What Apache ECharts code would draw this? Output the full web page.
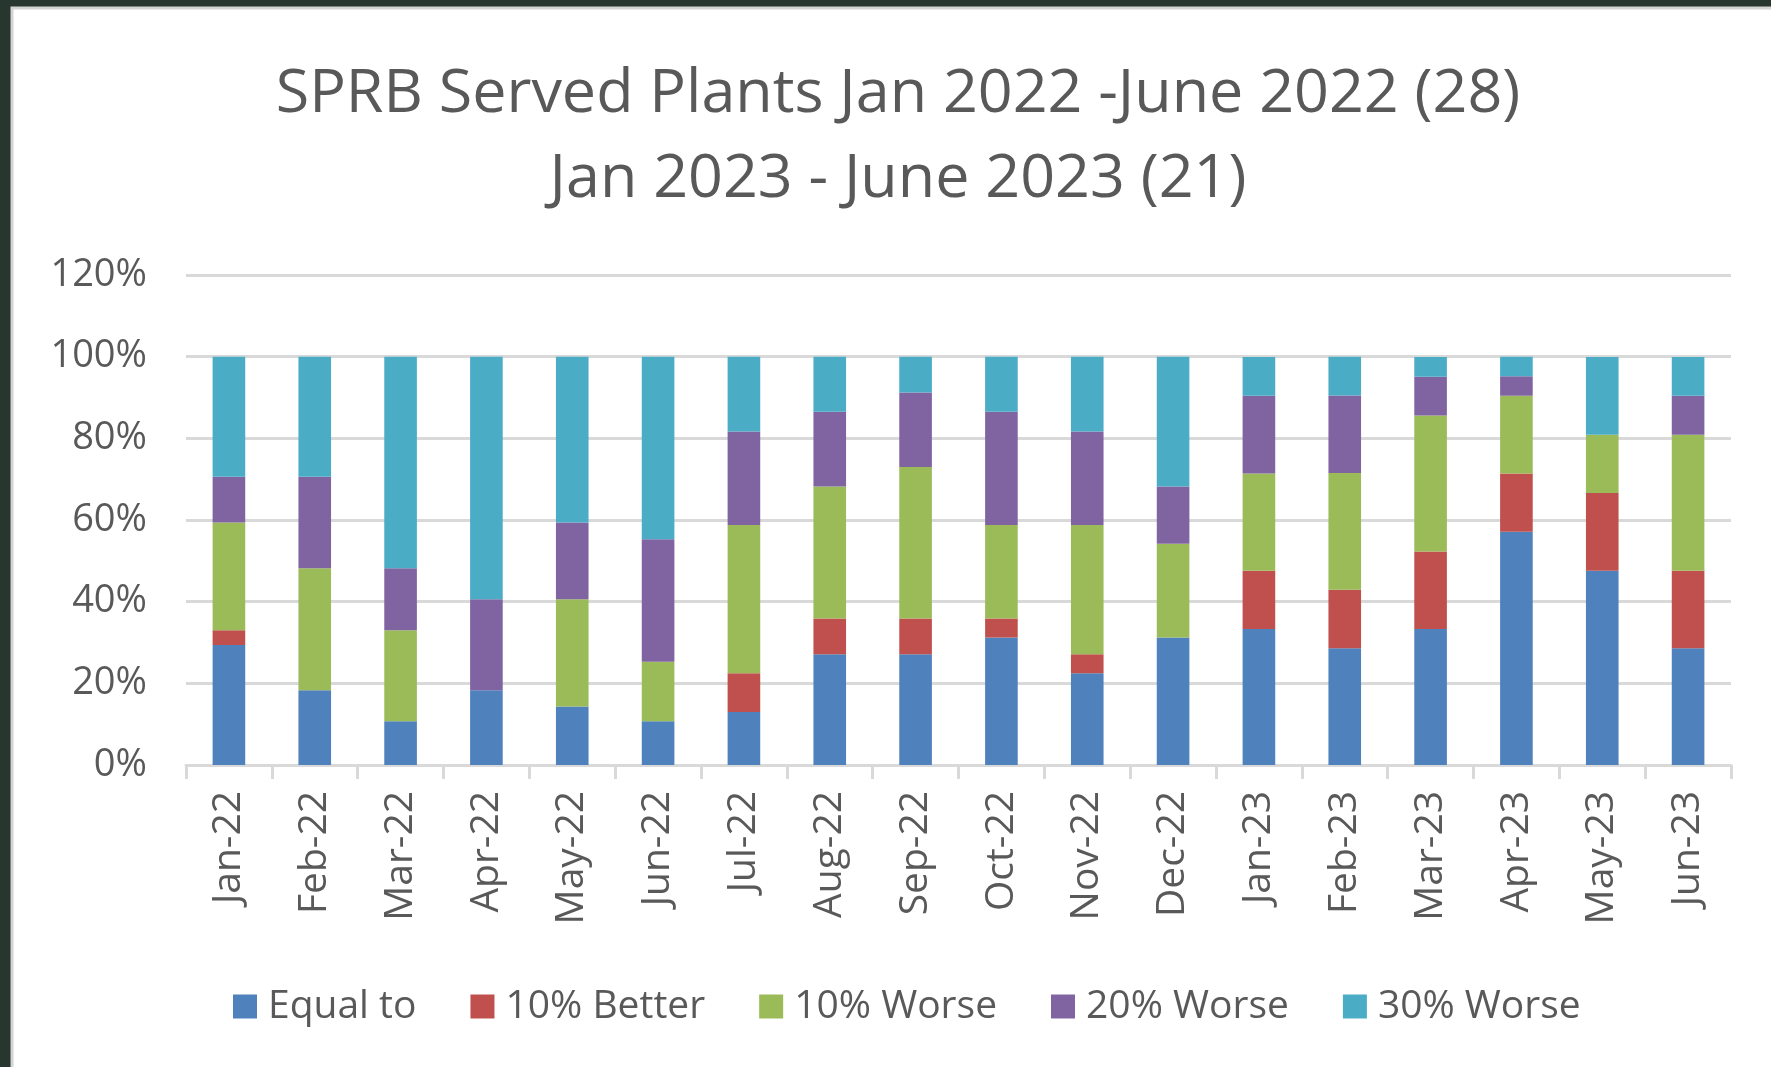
<!DOCTYPE html>
<html>
<head>
<meta charset="utf-8">
<script src="https://cdn.jsdelivr.net/npm/echarts@6/dist/echarts.min.js"></script>
<style>
  html, body { margin: 0; padding: 0; background: #27362f; }
  #c { width: 1771px; height: 1067px; }
</style>
</head>
<body>
<div id="c"></div>
<script>
const months = ['Jan-22','Feb-22','Mar-22','Apr-22','May-22','Jun-22','Jul-22','Aug-22','Sep-22','Oct-22','Nov-22','Dec-22','Jan-23','Feb-23','Mar-23','Apr-23','May-23','Jun-23'];
const seriesNames = ['Equal to','10% Better','10% Worse','20% Worse','30% Worse'];
const equalTo  = [29.4, 18.3, 10.7, 18.3, 14.3, 10.7, 13.0, 27.1, 27.1, 31.2, 22.5, 31.2, 33.3, 28.6, 33.3, 57.1, 47.6, 28.6];
const better10 = [3.6, 0, 0, 0, 0, 0, 9.5, 8.8, 8.8, 4.7, 4.6, 0, 14.3, 14.3, 19.0, 14.3, 19.0, 19.0];
const worse10  = [26.4, 29.9, 22.3, 0, 26.3, 14.6, 36.3, 32.3, 37.1, 22.9, 31.7, 23.0, 23.8, 28.6, 33.3, 19.0, 14.3, 33.3];
const worse20  = [11.2, 22.4, 15.2, 22.3, 18.8, 30.0, 22.9, 18.3, 18.2, 27.7, 22.9, 14.0, 19.0, 19.0, 9.5, 4.8, 0, 9.5];
const worse30  = [29.4, 29.4, 51.8, 59.4, 40.6, 44.7, 18.3, 13.5, 8.8, 13.5, 18.3, 31.8, 9.5, 9.5, 4.8, 4.8, 19.0, 9.5];
const yTicks = [0, 20, 40, 60, 80, 100, 120];
const titleLines = ['SPRB Served Plants Jan 2022 -June 2022 (28)', 'Jan 2023 - June 2023 (21)'];

const colors = ['#4F81BD', '#C0504D', '#9BBB59', '#8064A2', '#4BACC6'];
const allData = [equalTo, better10, worse10, worse20, worse30];
const FONT = 'Open Sans';
const TXT = '#595959';

const chart = echarts.init(document.getElementById('c'), null, { renderer: 'canvas' });
chart.setOption({
  animation: false,
  color: colors,
  graphic: [{
    type: 'rect', z: -10, silent: true,
    shape: { x: 12, y: 8, width: 1770, height: 1070 },
    style: { fill: '#ffffff', stroke: '#d4d4d4', lineWidth: 3 }
  }],
  title: {
    text: titleLines.join('\n'),
    left: 898,
    textAlign: 'center',
    top: 52,
    padding: 0,
    textStyle: { fontFamily: FONT, fontSize: 61, fontWeight: 'normal', color: TXT, lineHeight: 85 }
  },
  legend: {
    data: seriesNames,
    left: 228,
    top: 982,
    itemWidth: 24,
    itemHeight: 24,
    itemGap: 54,
    icon: 'rect',
    textStyle: { fontFamily: FONT, fontSize: 39, color: TXT, padding: [0, 0, 0, 6] }
  },
  grid: { left: 186, right: 40, top: 275, bottom: 302, containLabel: false },
  xAxis: {
    type: 'category',
    data: months,
    boundaryGap: true,
    axisLine: { lineStyle: { color: '#d9d9d9', width: 3 } },
    axisTick: { show: true, length: 14, lineStyle: { color: '#d9d9d9', width: 3 } },
    axisLabel: { rotate: 90, margin: 26, fontFamily: FONT, fontSize: 39, color: TXT, interval: 0 }
  },
  yAxis: {
    type: 'value',
    min: yTicks[0],
    max: yTicks[yTicks.length - 1],
    interval: 20,
    axisLine: { show: false },
    axisTick: { show: false },
    splitLine: { lineStyle: { color: '#d9d9d9', width: 3 } },
    axisLabel: { formatter: '{value}%', margin: 39, fontFamily: FONT, fontSize: 38, color: TXT }
  },
  series: seriesNames.map((name, i) => ({
    name: name,
    type: 'bar',
    stack: 'total',
    barWidth: '38%',
    data: allData[i],
    itemStyle: { color: colors[i] }
  }))
});
</script>
</body>
</html>
